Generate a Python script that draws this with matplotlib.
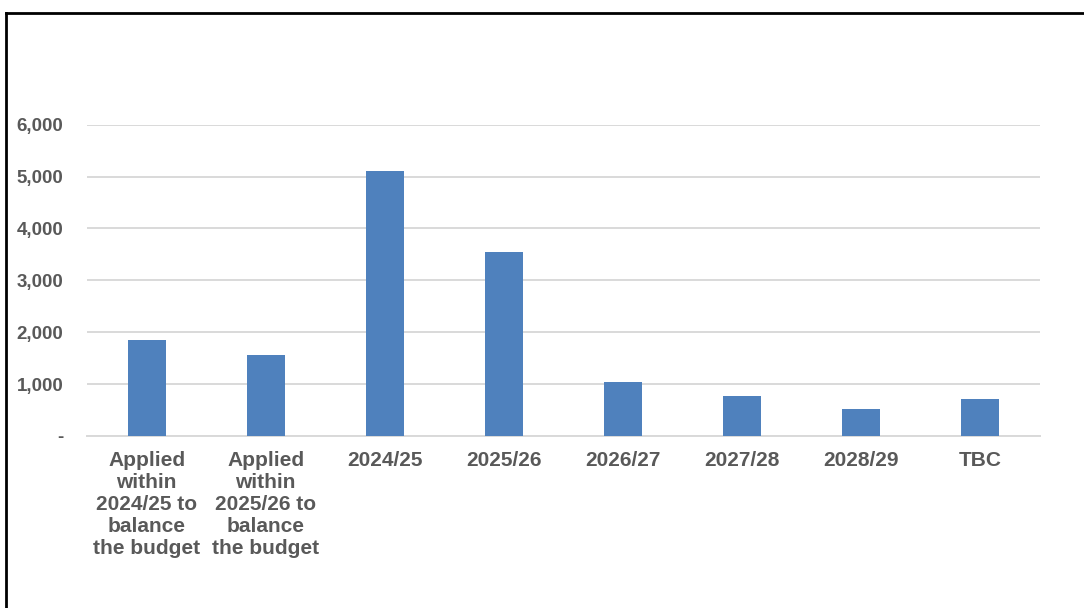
"""Bar chart of savings by year applied."""

import matplotlib.pyplot as plt
from matplotlib.lines import Line2D
from matplotlib.ticker import FuncFormatter

plt.rcParams['font.family'] = ['Liberation Sans', 'DejaVu Sans']

categories = [
    "Applied\nwithin\n2024/25 to\nbalance\nthe budget",
    "Applied\nwithin\n2025/26 to\nbalance\nthe budget",
    "2024/25", "2025/26", "2026/27", "2027/28", "2028/29", "TBC",
]
values = [1850, 1560, 5105, 3545, 1045, 770, 515, 705]
y_ticks = [0, 1000, 2000, 3000, 4000, 5000, 6000]

BAR_COLOR = "#4F81BD"
TEXT_COLOR = "#595959"
GRID_COLOR = "#D9D9D9"

fig = plt.figure(figsize=(10.84, 6.08), dpi=100)
ax = fig.add_axes([0.0803, 0.2829, 0.879, 0.512])

x = range(len(categories))
ax.bar(x, values, width=0.32, color=BAR_COLOR, zorder=3)

ax.set_xlim(-0.5, len(categories) - 0.5)
ax.set_ylim(0, 6000)
ax.set_yticks(y_ticks)
ax.yaxis.set_major_formatter(FuncFormatter(lambda v, _: "-" if v == 0 else f"{v:,.0f}"))
ax.set_xticks(list(x))
ax.set_xticklabels(categories, fontsize=15, fontweight='bold', color=TEXT_COLOR,
                   linespacing=1.2, va='top')

ax.grid(axis='y', color=GRID_COLOR, linewidth=1.4, zorder=0)
for side in ['top', 'right', 'left']:
    ax.spines[side].set_visible(False)
ax.spines['bottom'].set_color(GRID_COLOR)
ax.spines['bottom'].set_linewidth(1.4)
ax.tick_params(axis='both', length=0)
ax.tick_params(axis='x', pad=11)
ax.tick_params(axis='y', pad=17, labelsize=13.5, labelcolor=TEXT_COLOR)
for lbl in ax.get_yticklabels():
    lbl.set_fontweight('bold')

# frame lines (left and top only, as in the source image)
fig.add_artist(Line2D([0.0055, 0.0055], [0, 0.9785], transform=fig.transFigure,
                      color='black', linewidth=2))
fig.add_artist(Line2D([0.0055, 1.0], [0.9785, 0.9785], transform=fig.transFigure,
                      color='black', linewidth=2))

plt.savefig("out.png", dpi=100)
plt.close()
